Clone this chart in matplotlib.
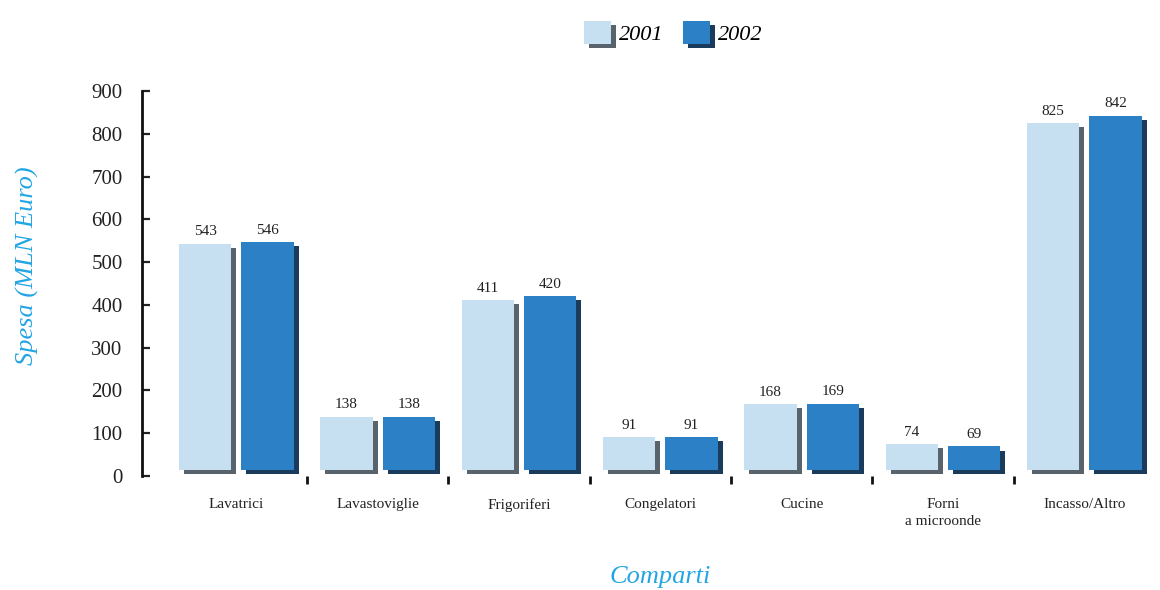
import matplotlib
matplotlib.use("Agg")
import matplotlib.pyplot as plt
import matplotlib.patheffects as pe
from matplotlib.patches import Patch
import numpy as np

categories = ["Lavatrici", "Lavastoviglie", "Frigoriferi", "Congelatori",
              "Cucine", "Forni\na microonde", "Incasso/Altro"]
spesa_2001 = [543, 138, 411, 91, 168, 74, 825]
spesa_2002 = [546, 138, 420, 91, 169, 69, 842]
yticks = [0, 100, 200, 300, 400, 500, 600, 700, 800, 900]

light = "#c6dff1"
dark = "#2b80c6"
light_shadow = "#59636c"
dark_shadow = "#1b3b5c"
accent = "#22a5e4"
serif = ["Liberation Serif", "DejaVu Serif"]

plt.rcParams["font.family"] = serif

fig = plt.figure(figsize=(11.6, 5.9), dpi=100)
W, H = 1160, 590
ax = fig.add_axes([142 / W, (H - 476) / H, (1155 - 142) / W, (476 - 91) / H])

x = np.arange(len(categories))
width = 0.37
offset = 0.22
base = 14  # bars sit slightly above the baseline

def shadow(color):
    return [pe.SimplePatchShadow(offset=(3.6, -2.9), shadow_rgbFace=color, alpha=1.0),
            pe.Normal()]

b1 = ax.bar(x - offset, np.array(spesa_2001) - base, width, bottom=base,
            color=light, edgecolor="none", zorder=3)
b2 = ax.bar(x + offset, np.array(spesa_2002) - base, width, bottom=base,
            color=dark, edgecolor="none", zorder=3)
for r in b1:
    r.set_path_effects(shadow(light_shadow))
for r in b2:
    r.set_path_effects(shadow(dark_shadow))

for xs, vals in ((x - offset, spesa_2001), (x + offset, spesa_2002)):
    for xi, v in zip(xs, vals):
        ax.annotate(str(v), (xi, v), xytext=(0, 4), textcoords="offset points",
                    ha="center", va="bottom", fontsize=11, color="#222222")

ax.set_xlim(-0.667, 6.5)
ax.set_ylim(0, 900)
ax.set_yticks(yticks)
ax.tick_params(axis="y", direction="in", length=6, width=1.6, pad=14,
               labelsize=15, colors="#222222")
ax.spines["left"].set_linewidth(2)
ax.spines["left"].set_color("#111111")
for s in ("top", "right", "bottom"):
    ax.spines[s].set_visible(False)

ax.set_xticks(x)
ax.set_xticklabels(categories, fontsize=11, color="#222222", linespacing=1.35)
ax.tick_params(axis="x", which="major", length=0, pad=16)
ax.set_xticks(np.arange(0.5, len(categories) - 1, 1.0), minor=True)
ax.tick_params(axis="x", which="minor", direction="out", length=5.5, width=2,
               color="#111111", pad=0)

fig.text(27 / W, 1 - 266 / H, "Spesa (MLN Euro)", fontsize=19, style="italic",
         color=accent, ha="center", va="center", rotation=90)
fig.text(660 / W, 1 - 577 / H, "Comparti", fontsize=19, style="italic",
         color=accent, ha="center", va="center")

handles = [Patch(facecolor=light, edgecolor="none",
                 path_effects=shadow(light_shadow)),
           Patch(facecolor=dark, edgecolor="none",
                 path_effects=shadow(dark_shadow))]
leg = fig.legend(handles, ["2001", "2002"], loc="center",
                 bbox_to_anchor=(673 / W, 1 - 33 / H), ncol=2, frameon=False,
                 handlelength=1.2, handleheight=1.2, handletextpad=0.36,
                 columnspacing=0.9, prop={"family": serif, "style": "italic",
                                          "size": 16})

fig.savefig("out.png", dpi=100)
